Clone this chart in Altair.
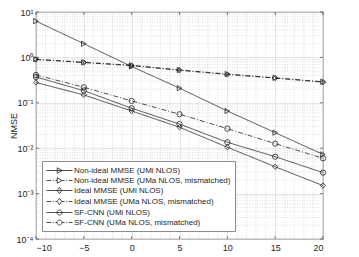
import altair as alt
import pandas as pd
import math

snr = [-10, -5, 0, 5, 10, 15, 20]
series_names = [
    "Non-ideal MMSE (UMi NLOS)",
    "Non-ideal MMSE (UMa NLOS, mismatched)",
    "Ideal MMSE (UMi NLOS)",
    "Ideal MMSE (UMa NLOS, mismatched)",
    "SF-CNN (UMi NLOS)",
    "SF-CNN (UMa NLOS, mismatched)",
]
nonideal_umi = [6.3, 2.0, 0.63, 0.21, 0.066, 0.022, 0.0073]
nonideal_uma = [0.91, 0.78, 0.67, 0.53, 0.43, 0.355, 0.29]
ideal_umi = [0.28, 0.149, 0.066, 0.029, 0.0105, 0.0039, 0.0015]
ideal_uma = [0.90, 0.77, 0.66, 0.52, 0.42, 0.35, 0.285]
sfcnn_umi = [0.37, 0.185, 0.076, 0.034, 0.0135, 0.0065, 0.0029]
sfcnn_uma = [0.41, 0.22, 0.11, 0.056, 0.027, 0.0126, 0.006]
all_values = [nonideal_umi, nonideal_uma, ideal_umi, ideal_uma, sfcnn_umi, sfcnn_uma]

x_ticks = [-10, -5, 0, 5, 10, 15, 20]
y_ticks = [1e-4, 1e-3, 1e-2, 1e-1, 1e0, 1e1]
y_tick_labels = ["10⁻⁴", "10⁻³", "10⁻²", "10⁻¹", "10⁰", "10¹"]
x_minor = [v for v in range(-10, 21) if v % 5 != 0]
y_minor = [k * 10.0 ** e for e in range(-4, 1) for k in range(2, 10)]

W, H = 287, 227
INK = "#262626"

rows = []
for name, vals in zip(series_names, all_values):
    for s, v in zip(snr, vals):
        rows.append({"snr": s, "nmse": v, "series": name})
df = pd.DataFrame(rows)

dashes = [[1, 0], [5, 2, 1, 2], [1, 0], [5, 2, 1, 2], [1, 0], [5, 2, 1, 2]]
shapes = ["triangle-right", "triangle-right", "diamond", "diamond", "circle", "circle"]

solid = "M-1,0H4.2"
dashdot = "M-1,0H-0.1M0.25,0H0.45M0.8,0H1.1M2.1,0H2.6M2.95,0H3.15M3.5,0H4.2"
tri = "M1.15,-0.55L2.1,0L1.15,0.55Z"
dia = "M1.6,-0.65L2.05,0L1.6,0.65L1.15,0Z"
cir = "M2.1,0A0.5,0.5,0,1,1,1.1,0A0.5,0.5,0,1,1,2.1,0Z"
legend_paths = [solid + tri, dashdot + tri, solid + dia, dashdot + dia, solid + cir, dashdot + cir]

# y label expression
expr = "''"
for v, lab in zip(y_ticks, y_tick_labels):
    e = round(math.log10(v))
    expr = f"abs(log(datum.value)/log(10) - ({e})) < 0.01 ? '{lab}' : ({expr})"

xs = alt.Scale(domain=[-10, 20], nice=False, zero=False)
ys = alt.Scale(type="log", domain=[1e-4, 10], nice=False)

x_enc = alt.X("snr:Q", scale=xs, axis=alt.Axis(values=x_ticks, title=None, grid=True,
                                              labelPadding=4, tickSize=0))
y_enc = alt.Y("nmse:Q", scale=ys, axis=alt.Axis(values=y_ticks, title="NMSE", grid=True,
                                               labelExpr=expr, labelPadding=3, tickSize=0,
                                               titleX=-23, titleY=H / 2, titleAngle=270,
                                               titleAlign="center", titleBaseline="middle"))

minor_x = alt.Chart(pd.DataFrame({"snr": x_minor})).mark_rule(
    color="#c8c8c8", strokeDash=[1, 1.5], strokeWidth=0.6
).encode(x=alt.X("snr:Q", scale=xs))
minor_y = alt.Chart(pd.DataFrame({"nmse": y_minor})).mark_rule(
    color="#c8c8c8", strokeDash=[1, 1.5], strokeWidth=0.6
).encode(y=alt.Y("nmse:Q", scale=ys))

xt = pd.DataFrame({"snr": x_ticks})
yt = pd.DataFrame({"nmse": y_ticks})
tick_b = alt.Chart(xt).mark_rule(color=INK, strokeWidth=0.6).encode(
    x=alt.X("snr:Q", scale=xs), y=alt.value(H), y2=alt.value(H - 3))
tick_t = alt.Chart(xt).mark_rule(color=INK, strokeWidth=0.6).encode(
    x=alt.X("snr:Q", scale=xs), y=alt.value(0), y2=alt.value(3))
tick_l = alt.Chart(yt).mark_rule(color=INK, strokeWidth=0.6).encode(
    y=alt.Y("nmse:Q", scale=ys), x=alt.value(0), x2=alt.value(3))
tick_r = alt.Chart(yt).mark_rule(color=INK, strokeWidth=0.6).encode(
    y=alt.Y("nmse:Q", scale=ys), x=alt.value(W), x2=alt.value(W - 3))

base = alt.Chart(df)
lines = base.mark_line(color="#222222", strokeWidth=0.8).encode(
    x=x_enc, y=y_enc,
    strokeDash=alt.StrokeDash("series:N", scale=alt.Scale(domain=series_names, range=dashes), legend=None),
    detail="series:N",
)
points = base.mark_point(filled=False, color="#222222", strokeWidth=0.8, size=28, opacity=1).encode(
    x=alt.X("snr:Q", scale=xs), y=alt.Y("nmse:Q", scale=ys),
    shape=alt.Shape("series:N", scale=alt.Scale(domain=series_names, range=shapes), legend=None),
)
legend_layer = base.mark_point(filled=False, color="#222222", opacity=0, size=100).encode(
    x=alt.X("snr:Q", scale=xs), y=alt.Y("nmse:Q", scale=ys),
    shape=alt.Shape("series:N", scale=alt.Scale(domain=series_names, range=legend_paths),
                    legend=alt.Legend(title=None, orient="none", legendX=6, legendY=149,
                                      symbolOpacity=1, symbolSize=100, symbolStrokeColor="#222222",
                                      symbolFillColor="transparent", symbolStrokeWidth=0.8,
                                      labelOffset=17, rowPadding=0, padding=4,
                                      fillColor="white", strokeColor="#8c8c8c",
                                      labelFont="Liberation Sans", labelFontSize=8,
                                      labelColor=INK, labelLimit=300)),
)

chart = alt.layer(minor_x, minor_y, lines, points, legend_layer, tick_b, tick_t, tick_l, tick_r).resolve_scale(
    shape="independent"
).properties(
    width=W, height=H,
    autosize=alt.AutoSizeParams(type="none"),
    padding={"left": 28, "top": 4, "right": 8, "bottom": 18},
).configure_view(stroke=INK, strokeWidth=0.8).configure_axis(
    domain=False, gridColor="#dcdcdc", gridWidth=0.7, labelFont="Liberation Sans", labelFontSize=9,
    labelColor=INK, titleFont="Liberation Sans", titleFontSize=9, titleFontWeight="normal",
    titleColor=INK,
)

chart.save("out.html", embed_options={"renderer": "svg", "actions": False})
